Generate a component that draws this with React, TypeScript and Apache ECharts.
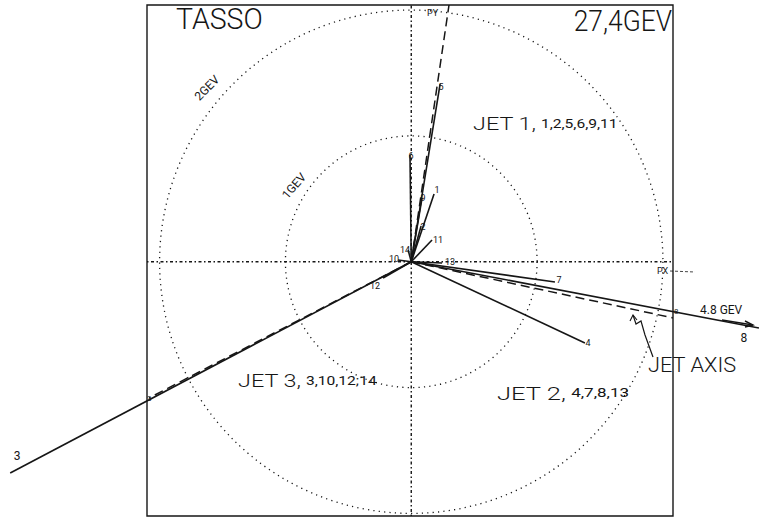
import React, { useEffect, useRef } from "react";
import * as echarts from "echarts";

// Track momenta projected on the event plane (GeV)
const trackIds = ["1", "2", "3", "4", "5", "6", "7", "8", "9", "10", "11", "12", "13", "14"];
const trackPx = [0.181, 0.078, -3.187, 1.38, 0.229, -0.01, 1.142, 2.763, 0.086, -0.105, 0.165, -0.224, 0.245, -0.025];
const trackPy = [0.539, 0.284, -1.678, -0.645, 1.412, 0.848, -0.161, -0.526, 0.507, 0.014, 0.173, -0.129, -0.01, 0.094];

// Jet axes (GeV, drawn to the frame)
const jetNames = ["JET1", "JET2", "JET3"];
const jetMembers = ["1,2,5,6,9,11", "4,7,8,13", "3,10,12;14"];
const jetPx = [0.3, 2.079, -2.083];
const jetPy = [2.04, -0.446, -1.082];

// Reference circles (GeV)
const ringRadii = [1, 2];
const ringLabels = ["1GEV", "2GEV"];

// Frame / axis extents (GeV)
const xRange = [-2.1, 2.08];
const yRange = [-2.02, 2.04];

// label nudges in pixels (style only)
const labelOffsets: number[][] = [
  [3, -4], [2, 1], [7, -17], [3, 0], [1, 3], [1, 1], [4, -2], [-15, 10], [1, 0], [-4, -1], [6, 0], [-8, 8], [8, -1], [-3, 0],
];

const INK = "#161616";
const FONT = "Roboto, 'DejaVu Sans', sans-serif";

function jetLabel(i: number, x: number, y: number, sx: number) {
  return {
    type: "text",
    x,
    y,
    scaleX: sx,
    style: {
      text: "{a|" + jetNames[i].replace("JET", "JET ") + ",} {b|" + jetMembers[i] + "}",
      fill: INK,
      verticalAlign: "middle",
      rich: {
        a: { fontSize: 18, fontFamily: FONT, fontWeight: 300, fill: INK },
        b: { fontSize: 12, fontFamily: FONT, fill: INK },
      },
    },
  };
}

export default function App() {
  const ref = useRef<HTMLDivElement>(null);
  useEffect(() => {
    document.body.style.margin = "0";
    const chart = echarts.init(ref.current!, null, { renderer: "svg" });
    const option: any = {
      animation: false,
      backgroundColor: "#ffffff",
      grid: {
        left: 147,
        right: 759 - 673,
        top: 5,
        bottom: 518 - 516,
        show: true,
        borderColor: INK,
        borderWidth: 1.4,
        backgroundColor: "transparent",
      },
      xAxis: { type: "value", min: xRange[0], max: xRange[1], show: false },
      yAxis: { type: "value", min: yRange[0], max: yRange[1], show: false },
      series: [
        {
          type: "custom",
          name: "rings",
          clip: false,
          data: ringRadii.map((r) => [r, 0]),
          renderItem: (params: any, api: any) => {
            const c = api.coord([0, 0]);
            const r = api.value(0);
            const rp = api.size([r, 0])[0];
            return {
              type: "circle",
              shape: { cx: c[0], cy: c[1], r: rp },
              style: { fill: "none", stroke: INK, lineWidth: 1.3, lineDash: [1.2, 4.2] },
            };
          },
        },
        {
          type: "custom",
          name: "axes",
          clip: false,
          data: [
            [xRange[0], 0, xRange[1], 0],
            [0, yRange[0], 0, yRange[1]],
          ],
          renderItem: (params: any, api: any) => {
            const a = api.coord([api.value(0), api.value(1)]);
            const b = api.coord([api.value(2), api.value(3)]);
            return {
              type: "line",
              shape: { x1: a[0], y1: a[1], x2: b[0], y2: b[1] },
              style: { stroke: INK, lineWidth: 1.4, lineDash: [1.5, 2.5, 3, 2.5] },
            };
          },
        },
        {
          type: "custom",
          name: "jet axes",
          clip: false,
          data: jetPx.map((x, i) => [x, jetPy[i]]),
          renderItem: (params: any, api: any) => {
            const o = api.coord([0, 0]);
            const e = api.coord([api.value(0), api.value(1)]);
            return {
              type: "line",
              shape: { x1: o[0], y1: o[1], x2: e[0], y2: e[1] },
              style: { stroke: INK, lineWidth: 1.5, lineDash: [9, 5] },
            };
          },
        },
        {
          type: "custom",
          name: "tracks",
          clip: false,
          data: trackPx.map((x, i) => [x, trackPy[i]]),
          renderItem: (params: any, api: any) => {
            const i = params.dataIndex;
            const o = api.coord([0, 0]);
            const e = api.coord([api.value(0), api.value(1)]);
            const off = labelOffsets[i];
            return {
              type: "group",
              children: [
                {
                  type: "line",
                  shape: { x1: o[0], y1: o[1], x2: e[0], y2: e[1] },
                  style: { stroke: INK, lineWidth: 1.6 },
                },
                {
                  type: "text",
                  x: e[0] + off[0],
                  y: e[1] + off[1],
                  style: {
                    text: trackIds[i],
                    fontSize: i === 2 || i === 7 ? 12 : 9,
                    fontFamily: FONT,
                    fill: INK,
                    align: "center",
                    verticalAlign: "middle",
                  },
                },
              ],
            };
          },
        },
      ],
      graphic: [
        { type: "text", x: 176, y: 4, scaleX: 0.95, style: { text: "TASSO", fontSize: 30, fontFamily: FONT, fontWeight: 300, fill: INK } },
        { type: "text", x: 672, y: 6, scaleX: 0.88, style: { text: "27,4GEV", fontSize: 30, fontFamily: FONT, fontWeight: 300, fill: INK, align: "right" } },
        { type: "text", x: 427, y: 8, style: { text: "PY", fontSize: 9, fontFamily: FONT, fill: INK } },
        { type: "text", x: 657, y: 266, style: { text: "PX", fontSize: 9, fontFamily: FONT, fill: INK } },
        { type: "line", shape: { x1: 670, y1: 271, x2: 695, y2: 272 }, style: { stroke: INK, lineWidth: 0.8, lineDash: [3, 2] } },
        { type: "text", x: 207, y: 88, rotation: Math.PI / 4, style: { text: ringLabels[1], fontSize: 12, fontFamily: FONT, fill: INK, align: "center", verticalAlign: "middle" } },
        { type: "text", x: 294, y: 186, rotation: (49 * Math.PI) / 180, style: { text: ringLabels[0], fontSize: 12, fontFamily: FONT, fill: INK, align: "center", verticalAlign: "middle" } },
        jetLabel(0, 473, 124, 1.3),
        jetLabel(1, 497, 393, 1.42),
        jetLabel(2, 238, 381, 1.3),
        { type: "text", x: 648, y: 365, scaleX: 1.09, style: { text: "JET AXIS", fontSize: 20, fontFamily: FONT, fontWeight: 300, fill: INK, verticalAlign: "middle" } },
        { type: "text", x: 700, y: 310, style: { text: "4.8 GEV", fontSize: 12, fontFamily: FONT, fill: INK, verticalAlign: "middle" } },
        { type: "line", shape: { x1: 722, y1: 320, x2: 753, y2: 325 }, style: { stroke: INK, lineWidth: 1.4 } },
        { type: "polyline", shape: { points: [[745, 321], [753, 325], [745, 327]] }, style: { stroke: INK, lineWidth: 1.4, fill: "none" } },
        { type: "text", x: 674, y: 311, style: { text: "8", fontSize: 8, fontFamily: FONT, fill: INK, verticalAlign: "middle" } },
        { type: "text", x: 147, y: 398, style: { text: "3", fontSize: 8, fontFamily: FONT, fill: INK, verticalAlign: "middle" } },
        {
          type: "polyline",
          shape: { points: [[633, 315], [636, 324], [641, 321], [645, 335], [653, 357]] },
          style: { stroke: INK, lineWidth: 1.2, fill: "none" },
        },
        { type: "polyline", shape: { points: [[630, 321], [633, 315], [637, 320]] }, style: { stroke: INK, lineWidth: 1.1, fill: "none" } },
      ],
    };
    chart.setOption(option);
    return () => chart.dispose();
  }, []);
  return <div ref={ref} style={{ width: 759, height: 518 }} />;
}
